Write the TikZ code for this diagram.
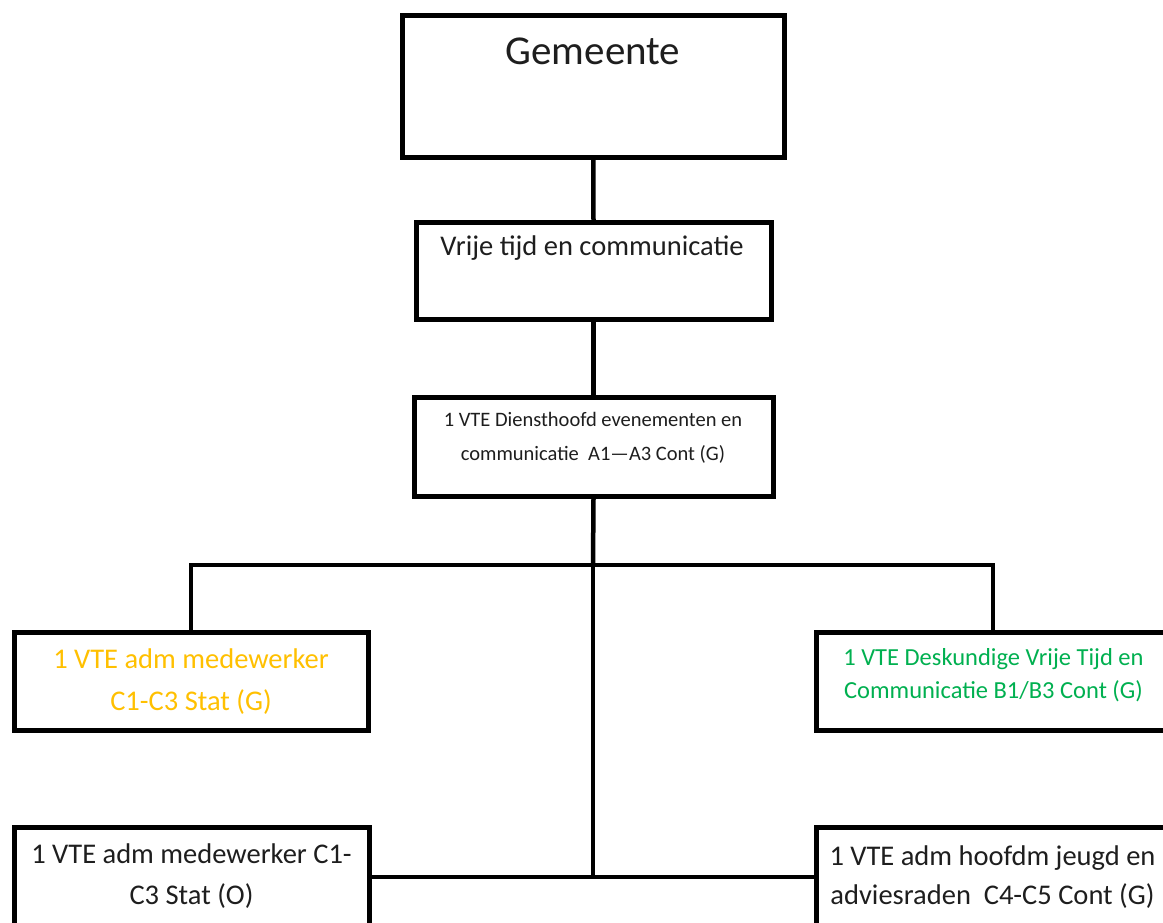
\documentclass[tikz,border=0pt]{standalone}
\usepackage{fontspec}
\setmainfont{Carlito}
\definecolor{txt}{HTML}{1E1E1E}
\definecolor{orangetxt}{HTML}{FFC000}
\definecolor{greentxt}{HTML}{00B050}
\begin{document}
\begin{tikzpicture}[x=1pt,y=-1pt,
  box/.style={draw=black, line width=5pt, rectangle, inner sep=0pt, fill=white},
  conn/.style={line width=4.5pt, draw=black},
  t/.style={anchor=base, inner sep=0pt, text=txt}]
\useasboundingbox (0,0) rectangle (1163,923);
\clip (0,0) rectangle (1163,923);
% boxes
\node[box, minimum width=381.5pt, minimum height=141.7pt] (g) at (593.25,86.65) {};
\node[box, minimum width=355pt, minimum height=96.5pt] (v) at (593.5,270.75) {};
\node[box, minimum width=359pt, minimum height=99pt] (d) at (593.5,447) {};
\node[box, minimum width=354pt, minimum height=97.5pt] (a) at (191,681.25) {};
\node[box, minimum width=354pt, minimum height=98pt] (gr) at (993,681.5) {};
\node[box, minimum width=354.5pt, minimum height=172.5pt] (b6) at (191.75,913.75) {};
\node[box, minimum width=354pt, minimum height=172.5pt] (b7) at (993,913.75) {};
% texts
\node[t, font=\fontsize{41}{49}\selectfont] (gt) at (593,65) {Gemeente};
\node[t, font=\fontsize{28.5}{34}\selectfont] (vt) at (592,255) {Vrije tijd en communicatie};
\node[t, font=\fontsize{20.5}{25}\selectfont] (dt1) at (593,426.5) {1 VTE Diensthoofd evenementen en};
\node[t, font=\fontsize{20.5}{25}\selectfont] (dt2) at (593,460) {communicatie\ \ A1---A3 Cont (G)};
\node[t, text=orangetxt, font=\fontsize{28.5}{34}\selectfont] (at1) at (191,668) {1 VTE adm medewerker};
\node[t, text=orangetxt, font=\fontsize{28.5}{34}\selectfont] (at2) at (191,710) {C1-C3 Stat (G)};
\node[t, text=greentxt, font=\fontsize{24.5}{29}\selectfont] (gt1) at (993.5,665) {1 VTE Deskundige Vrije Tijd en};
\node[t, text=greentxt, font=\fontsize{24.5}{29}\selectfont] (gt2) at (993.5,698) {Communicatie B1/B3 Cont (G)};
\node[t, font=\fontsize{28.5}{34}\selectfont] (bt1) at (191.5,863) {1 VTE adm medewerker C1-};
\node[t, font=\fontsize{28.5}{34}\selectfont] (bt2) at (191.5,904) {C3 Stat (O)};
\node[t, font=\fontsize{28.5}{34}\selectfont] (ct1) at (992.5,865) {1 VTE adm hoofdm jeugd en};
\node[t, font=\fontsize{28.5}{34}\selectfont] (ct2) at (992.5,904) {adviesraden\ \ C4-C5 Cont (G)};
% connectors
\coordinate (j) at (593,565);
\coordinate (k) at (593,877);
\draw[conn] (g.south) -- (v.north);
\draw[conn] (v.south) -- (d.north);
\draw[conn] (d.south) -- (j);
\draw[conn] (a.north) |- (j) -| (gr.north);
\draw[conn] (j) -- (k);
\draw[conn] (b6.east |- k) -- (b7.west |- k);
\end{tikzpicture}
\end{document}
